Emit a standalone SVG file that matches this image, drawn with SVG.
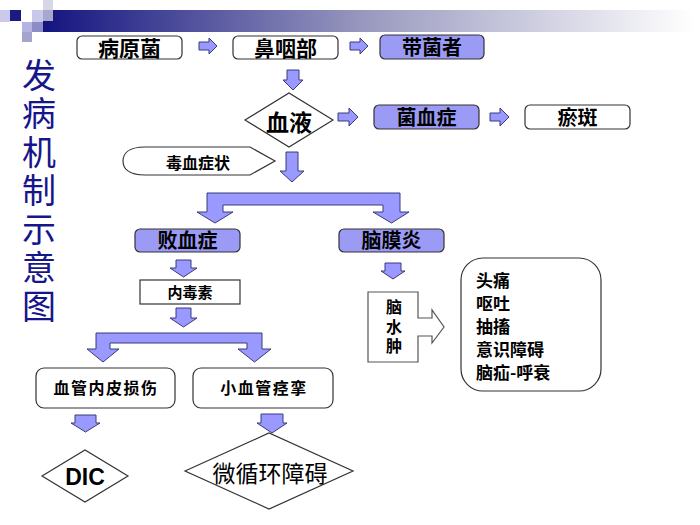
<svg xmlns="http://www.w3.org/2000/svg" width="700" height="525" viewBox="0 0 700 525">
<defs>
<linearGradient id="hdr" x1="0" y1="0" x2="1" y2="0">
<stop offset="0" stop-color="#141480"/>
<stop offset="0.5" stop-color="#9a9ac0"/>
<stop offset="1" stop-color="#ffffff"/>
</linearGradient>
<style>
.t{font-family:"Noto Sans CJK SC","Noto Sans",sans-serif;fill:#000;text-anchor:middle}
.b{font-weight:bold}
.wb{fill:#fff;stroke:#333;stroke-width:1.2}
.lb{fill:#9b9bf5;stroke:#333;stroke-width:1.2}
.arr{fill:#9999ff;stroke:#3a3a7a;stroke-width:1}
.ttl{font-family:"Noto Sans CJK SC",sans-serif;fill:#16168c;font-size:34px}
</style>
</defs>
<rect width="700" height="525" fill="#fff"/>
<g id="header">
<rect x="43" y="10" width="650" height="22" fill="url(#hdr)"/>
<rect x="0" y="10" width="10" height="12" fill="#cacae8"/>
<rect x="10" y="10" width="11" height="11" fill="#1a1a80"/>
<rect x="32" y="10" width="11" height="12" fill="#c8c8ea"/>
<rect x="43" y="0" width="10" height="10" fill="#d6d6e6"/>
<rect x="43" y="10" width="10" height="11" fill="#a8a8cc"/>
<rect x="22" y="22" width="10" height="10" fill="#b4b4e4"/>
<rect x="32" y="22" width="11" height="10" fill="#8c8cc8"/>
<rect x="22" y="32" width="10" height="10" fill="#a4a4cc"/>
</g>
<g id="title">
<text class="ttl" x="39" y="58" writing-mode="tb" letter-spacing="4.5">发病机制示意图</text>
</g>
<g id="connectors">
<path class="arr" d="M199,42 L209,42 L209,38 L217,46 L209,54 L209,50 L199,50 Z"/>
<path class="arr" d="M350,42 L360,42 L360,38 L368,46 L360,54 L360,50 L350,50 Z"/>
<path class="arr" d="M338,113 L349,113 L349,108 L358,117 L349,126 L349,121 L338,121 Z"/>
<path class="arr" d="M490,113 L500,113 L500,108 L509,117 L500,126 L500,121 L490,121 Z"/>
<path class="arr" d="M287,70 L299,70 L299,80 L303,80 L293,90 L283,80 L287,80 Z"/>
<path class="arr" d="M286,152 L298,152 L298,171 L304,171 L292,182 L280,171 L286,171 Z"/>
<path class="arr" d="M207,193 L400,193 L400,212 L409,212 L391.5,223 L373,212 L383,212 L383,205 L223,205 L223,212 L233,212 L215,223 L197,212 L207,212 Z"/>
<path class="arr" d="M176,260 L191,260 L191,268 L197,268 L183.5,277 L170,268 L176,268 Z"/>
<path class="arr" d="M176,308 L191,308 L191,318 L197,318 L183.5,327 L170,318 L176,318 Z"/>
<path class="arr" d="M96,333 L262,333 L262,349 L271,349 L254.5,362 L238,349 L247,349 L247,343 L110,343 L110,349 L119,349 L103,362 L87,349 L96,349 Z"/>
<path class="arr" d="M385,263 L401,263 L401,271 L405,271 L393,279 L381,271 L385,271 Z"/>
<path class="arr" d="M75,415 L96,415 L96,423 L100,423 L85.5,432 L71,423 L75,423 Z"/>
<path class="arr" d="M261,414 L283,414 L283,423 L287,423 L272,433 L257,423 L261,423 Z"/>
</g>
<g id="n-bingyuanjun"><rect class="wb" x="77" y="36" width="105" height="23" rx="5"/><text class="t b" x="129.5" y="55.5" font-size="21">病原菌</text></g>
<g id="n-biyanbu"><rect class="wb" x="233" y="36" width="105" height="23" rx="5"/><text class="t b" x="285.5" y="55.5" font-size="21">鼻咽部</text></g>
<g id="n-daijunzhe"><rect class="lb" x="380" y="35" width="104" height="24" rx="5"/><text class="t b" x="432" y="55" font-size="20">带菌者</text></g>
<g id="n-xueye"><polygon class="wb" points="245,120 289,93 333,120 289,147"/><text class="t b" x="289" y="130.5" font-size="23">血液</text></g>
<g id="n-junxuezheng"><rect class="lb" x="374" y="105" width="105" height="24" rx="5"/><text class="t b" x="426.5" y="125" font-size="20">菌血症</text></g>
<g id="n-yuban"><rect class="wb" x="525" y="105" width="105" height="24" rx="5"/><text class="t b" x="577.5" y="125" font-size="20">瘀斑</text></g>
<g id="n-duxuezhengzhuang"><path class="wb" d="M145,147 L250,147 L275,161 L250,175 L145,175 C128,175 123,168 123,161 C123,154 128,147 145,147 Z"/><text class="t b" x="198" y="168.5" font-size="16">毒血症状</text></g>
<g id="n-baixuezheng"><rect class="lb" x="135" y="229" width="105" height="23" rx="5"/><text class="t b" x="187.5" y="248" font-size="20">败血症</text></g>
<g id="n-naomoyan"><rect class="lb" x="339" y="229" width="105" height="23" rx="5"/><text class="t b" x="391.5" y="248" font-size="20">脑膜炎</text></g>
<g id="n-neidusu"><rect class="wb" x="140" y="280" width="100" height="24"/><text class="t b" x="190" y="297.5" font-size="15">内毒素</text></g>
<g id="n-xueguanneipi"><rect class="wb" x="36" y="368" width="139" height="40" rx="8"/><text class="t b" x="106" y="394" font-size="16" letter-spacing="1.5">血管内皮损伤</text></g>
<g id="n-xiaoxueguan"><rect class="wb" x="193" y="368" width="140" height="40" rx="8"/><text class="t b" x="264" y="394" font-size="16" letter-spacing="1.5">小血管痉挛</text></g>
<g id="n-dic"><polygon class="wb" points="42,476 85,450 128,476 85,502"/><text x="85" y="485" font-family="Liberation Sans, Arial, sans-serif" font-weight="bold" font-size="23" text-anchor="middle">DIC</text></g>
<g id="n-weixunhuan"><polygon class="wb" points="185,471 269,433 353,471 269,509"/><text class="t" x="270" y="482" font-size="23">微循环障碍</text></g>
<g id="n-naoshuizhong"><path d="M368,292 L418,292 L418,318 L432,318 L432,310 L444,327 L432,343 L432,336 L418,336 L418,362 L368,362 Z" fill="#fff" stroke="#555" stroke-width="1.2"/><text class="t b" x="394" y="299" font-size="16" style="text-anchor:start" writing-mode="tb" letter-spacing="3.5">脑水肿</text></g>
<g id="n-symptoms"><rect class="wb" x="461" y="258" width="140" height="133" rx="22"/><text class="t b" font-size="17" style="text-anchor:start"><tspan x="476" y="287">头痛</tspan><tspan x="476" y="310">呕吐</tspan><tspan x="476" y="333">抽搐</tspan><tspan x="476" y="356">意识障碍</tspan><tspan x="476" y="379">脑疝-呼衰</tspan></text></g>
</svg>
